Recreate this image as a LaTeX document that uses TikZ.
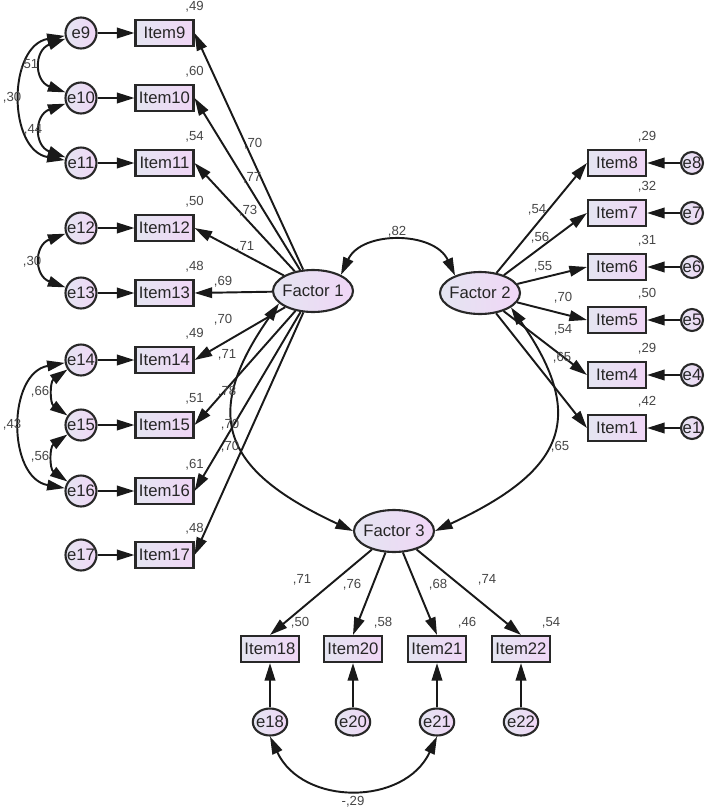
\documentclass[tikz,border=0pt]{standalone}
\usepackage{fontspec}
\setmainfont{Liberation Sans}
\usetikzlibrary{arrows.meta,shapes.geometric}
\definecolor{boxleft}{RGB}{228,229,241}
\definecolor{boxright}{RGB}{240,214,246}
\definecolor{edgegray}{RGB}{40,40,40}
\definecolor{valgray}{RGB}{70,70,70}
\tikzset{
  amos/.tip={Triangle[length=10pt,width=6pt]},
  shaded/.style={draw=edgegray, line width=1.2pt, left color=boxleft, right color=boxright,
    font=\fontsize{9.5}{11}\selectfont, text=black!85},
  item/.style={shaded, minimum width=1.16cm, minimum height=0.52cm, inner sep=0pt},
  errbig/.style={shaded, circle, minimum size=0.62cm, inner sep=0pt},
  errsmall/.style={shaded, circle, minimum size=0.44cm, inner sep=0pt},
  errlow/.style={shaded, ellipse, minimum height=0.54cm, inner xsep=-1pt, inner ysep=0pt},
  factor/.style={shaded, ellipse, minimum width=1.6cm, minimum height=0.84cm, inner sep=-2pt},
  load/.style={-amos, line width=1.1pt, draw=black!90},
  cov/.style={amos-amos, line width=1.1pt, draw=black!90},
  val/.style={font=\fontsize{7.5}{8}\selectfont, text=valgray, inner sep=0pt},
  sq/.style={val, anchor=south, yshift=3.4pt}
}
\begin{document}
\begin{tikzpicture}[x=0.02cm, y=0.02cm]
  \useasboundingbox (0,0) rectangle (709,-809);

  % Factors
  \node[factor] (f1) at (313,-291) {Factor 1};
  \node[factor] (f2) at (480,-293) {Factor 2};
  \node[factor] (f3) at (394,-531) {Factor 3};

  % Left block: items 9-17
  \foreach \n/\y/\r in {9/33/49, 10/98/60, 11/163/54, 12/228/50, 13/293/48,
      14/360/49, 15/425/51, 16/491/61, 17/555/48} {
    \node[errbig] (e\n) at (81,-\y) {e\n};
    \node[item, label={[sq]north east:,\r}] (i\n) at (164.5,-\y) {Item\n};
    \draw[load] (e\n) -- (i\n);
    \draw[load] (f1) -- (i\n.east);
  }

  % Right block: items 1-8
  \foreach \n/\y/\r in {8/163/29, 7/213/32, 6/267/31, 5/320/50, 4/375/29, 1/428/42} {
    \node[item, label={[sq]north east:,\r}] (i\n) at (617,-\y) {Item\n};
    \node[errsmall] (e\n) at (692,-\y) {e\n};
    \draw[load] (e\n) -- (i\n);
    \draw[load] (f2) -- (i\n.west);
  }

  % Bottom block: items 18-22
  \foreach \n/\x/\r in {18/270/50, 20/353/58, 21/437/46, 22/521/54} {
    \node[item, label={[sq]north east:,\r}] (i\n) at (\x,-649) {Item\n};
    \node[errlow] (e\n) at (\x,-722) {e\n};
    \draw[load] (e\n) -- (i\n);
    \draw[load] (f3) -- (i\n.north);
  }

  % Error covariances
  \draw[cov] (e9) to[out=200, in=160, looseness=1.6] (e10);
  \draw[cov] (e10) to[out=200, in=160, looseness=1.6] (e11);
  \draw[cov] (e9) to[out=190, in=170, looseness=1.2] (e11);
  \draw[cov] (e12) to[out=200, in=160, looseness=1.6] (e13);
  \draw[cov] (e14) to[out=215, in=145, looseness=1.2] (e15);
  \draw[cov] (e15) to[out=215, in=145, looseness=1.2] (e16);
  \draw[cov] (e14) to[out=190, in=170, looseness=1.2] (e16);
  \draw[cov] (e18.south) to[out=-65, in=-115, looseness=1.18] (e21.south);

  % Factor covariances
  \draw[cov] (f1.30) to[out=65, in=115, looseness=1.1] (f2.145);
  \draw[cov] (f1.200) to[out=235, in=155, looseness=1.5] (f3.west);
  \draw[cov] (f2.-25) to[out=-55, in=25, looseness=1.5] (f3.east);

  % Estimates
  \foreach \x/\y/\v [count=\k] in {253/144/70, 252/178/77, 248/211/73, 245/247/71,
      223/282/69, 223/320/70, 227/355/71, 227/392/78, 230/425/70, 230/447/70}
    \node[val] (a\k) at (\x,-\y) {,\v};
  \foreach \x/\y/\v [count=\k] in {537/210/54, 540/238/56, 543/267/55, 563/298/70,
      563/330/54, 562/358/65}
    \node[val] (b\k) at (\x,-\y) {,\v};
  \foreach \x/\y/\v [count=\k] in {302/580/71, 352/585/76, 438/585/68, 487/580/74}
    \node[val] (c\k) at (\x,-\y) {,\v};
  \foreach \x/\y/\v [count=\k] in {397/232/82, 560/447/65, 29/65/51, 12/98/30,
      33/130/44, 32/262/30, 40/392/66, 12/425/43, 40/457/56}
    \node[val] (d\k) at (\x,-\y) {,\v};
  \node[val] (d10) at (353,-802) {-,29};
\end{tikzpicture}
\end{document}
